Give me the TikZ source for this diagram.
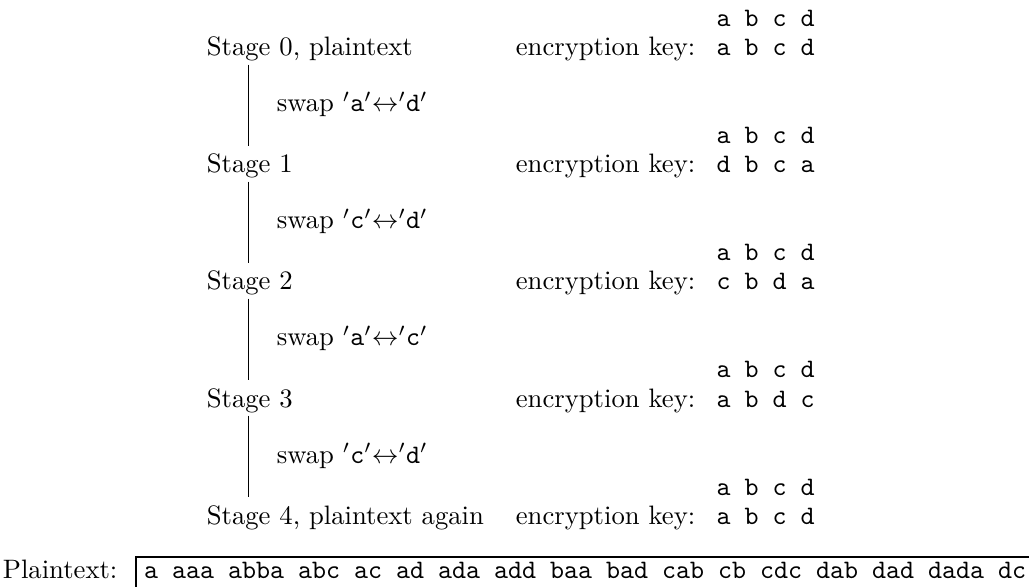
\documentclass[tikz,border=0pt]{standalone}
\begin{document}
\begin{tikzpicture}[x=0.375pt,y=-0.375pt,
  lbl/.style={anchor=base west,inner sep=0.5pt},
  keyrow/.style={anchor=base west,inner sep=0pt,font=\ttfamily},
  link/.style={line width=0.3pt,shorten <=0.5pt,shorten >=2.2pt},
  ptbox/.style={anchor=base west,draw,line width=0.8pt,inner xsep=3pt,inner ysep=1.8pt,text depth=3pt,font=\ttfamily}]
\useasboundingbox (0,0) rectangle (1029,587);
\clip (0,0) rectangle (1029,587);
\coordinate (vx) at (248,0);
% stages
\node[lbl] (s0) at (205,56) {Stage 0, plaintext};
\node[lbl] (s1) at (205,173) {Stage 1};
\node[lbl] (s2) at (205,290) {Stage 2};
\node[lbl] (s3) at (205,407) {Stage 3};
\node[lbl] (s4) at (205,524) {Stage 4, plaintext again};
% swaps
\node[lbl] (w1) at (275,112) {swap $'$\texttt{a}$'$$\leftrightarrow$$'$\texttt{d}$'$};
\node[lbl] (w2) at (275,229) {swap $'$\texttt{c}$'$$\leftrightarrow$$'$\texttt{d}$'$};
\node[lbl] (w3) at (275,346) {swap $'$\texttt{a}$'$$\leftrightarrow$$'$\texttt{c}$'$};
\node[lbl] (w4) at (275,463) {swap $'$\texttt{c}$'$$\leftrightarrow$$'$\texttt{d}$'$};
% links
\draw[link] (s0.south -| vx) -- (s1.north -| vx);
\draw[link] (s1.south -| vx) -- (s2.north -| vx);
\draw[link] (s2.south -| vx) -- (s3.north -| vx);
\draw[link] (s3.south -| vx) -- (s4.north -| vx);
% encryption keys
\node[lbl] (e0) at (514,56) {encryption key:};
\node[lbl] (e1) at (514,173) {encryption key:};
\node[lbl] (e2) at (514,290) {encryption key:};
\node[lbl] (e3) at (514,407) {encryption key:};
\node[lbl] (e4) at (514,524) {encryption key:};
\node[keyrow] (h0) at (716,27) {a b c d};
\node[keyrow] (k0) at (716,56) {a b c d};
\node[keyrow] (h1) at (716,144) {a b c d};
\node[keyrow] (k1) at (716,173) {d b c a};
\node[keyrow] (h2) at (716,261) {a b c d};
\node[keyrow] (k2) at (716,290) {c b d a};
\node[keyrow] (h3) at (716,378) {a b c d};
\node[keyrow] (k3) at (716,407) {a b d c};
\node[keyrow] (h4) at (716,495) {a b c d};
\node[keyrow] (k4) at (716,524) {a b c d};
% plaintext
\node[lbl] (pl) at (1,578) {Plaintext:};
\node[ptbox] (pt) at (135,578) {a aaa abba abc ac ad ada add baa bad cab cb cdc dab dad dada dc};
\end{tikzpicture}
\end{document}
